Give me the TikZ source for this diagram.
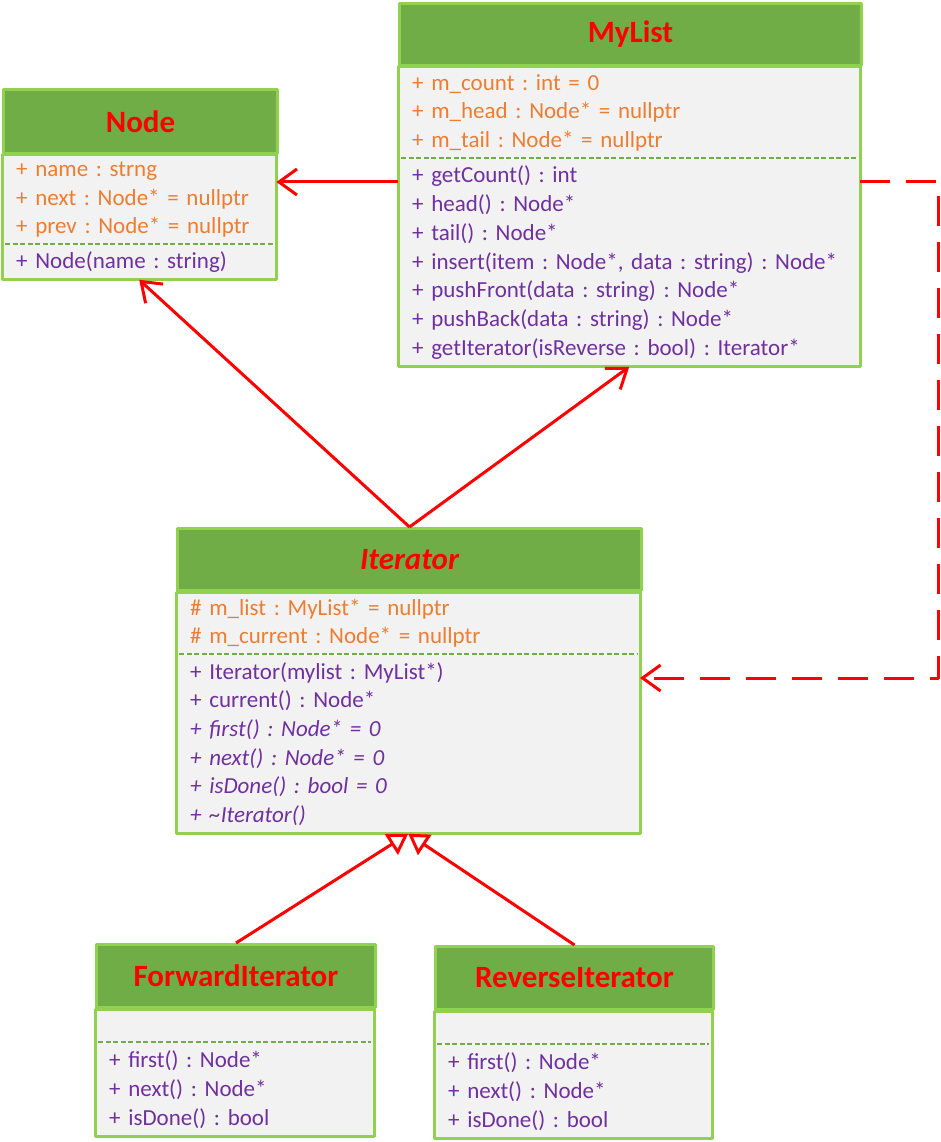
\documentclass[tikz,border=0pt]{standalone}
\usepackage{fontspec}
\setmainfont{Carlito}
\usetikzlibrary{arrows.meta}
\definecolor{headgreen}{HTML}{70AD47}
\definecolor{framegreen}{HTML}{92D050}
\definecolor{bodygray}{HTML}{F2F2F2}
\definecolor{attrorange}{HTML}{ED7D31}
\definecolor{oppurple}{HTML}{7030A0}
\frenchspacing
\begin{document}
\begin{tikzpicture}[x=1pt,y=-1pt,line join=round,
	head/.style={draw=framegreen,fill=headgreen,line width=3pt,text=red,anchor=north west,inner sep=0pt,font=\fontsize{31}{36}\selectfont\bfseries},
	part/.style={fill=bodygray,anchor=north west,inner xsep=14pt,inner ysep=0pt,align=left,font=\fontsize{23}{28.7}\selectfont},
	attr/.style={part,text=attrorange},
	oper/.style={part,text=oppurple},
	frame/.style={draw=framegreen,line width=3pt},
	sep/.style={draw=headgreen,line width=2pt,dash pattern=on 5pt off 2.5pt},
	link/.style={draw=red,line width=3pt,-{Straight Barb[length=18pt,width=26pt]}},
	dep/.style={link,dash pattern=on 30pt off 16pt},
	inherit/.style={draw=red,line width=3pt,-{Triangle[fill=white,length=20pt,width=24pt]}}]
	\useasboundingbox (0,0) rectangle (941,1142);
	%%% Node
	\node[head,minimum width=274pt,minimum height=64pt] (nodeHead) at (2,88) {Node};
	\node[attr,text width=246pt,minimum height=89pt] (nodeAttr) at (nodeHead.south west) {+ name : strng\\+ next : Node* = nullptr\\+ prev : Node* = nullptr};
	\node[oper,text width=246pt,minimum height=35pt] (nodeOps) at (nodeAttr.south west) {+ Node(name : string)};
	\draw[frame] (nodeAttr.north west) rectangle (nodeOps.south east);
	\draw[sep] ([xshift=3pt]nodeAttr.south west) -- ([xshift=-3pt]nodeAttr.south east);
	%%% MyList
	\node[head,minimum width=462pt,minimum height=62pt] (mlHead) at (398,2) {MyList};
	\node[attr,text width=434pt,minimum height=91pt] (mlAttr) at (mlHead.south west) {+ m\_count : int = 0\\+ m\_head : Node* = nullptr\\+ m\_tail : Node* = nullptr};
	\node[oper,text width=434pt,minimum height=208pt] (mlOps) at (mlAttr.south west) {+ getCount() : int\\+ head() : Node*\\+ tail() : Node*\\+ insert(item : Node*, data : string) : Node*\\+ pushFront(data : string) : Node*\\+ pushBack(data : string) : Node*\\+ getIterator(isReverse : bool) : Iterator*};
	\draw[frame] (mlAttr.north west) rectangle (mlOps.south east);
	\draw[sep] ([xshift=3pt]mlAttr.south west) -- ([xshift=-3pt]mlAttr.south east);
	%%% Iterator
	\node[head,minimum width=464pt,minimum height=62pt,font=\fontsize{31}{36}\selectfont\bfseries\itshape] (itHead) at (176,527) {Iterator};
	\node[attr,text width=436pt,minimum height=62pt] (itAttr) at (itHead.south west) {\# m\_list : MyList* = nullptr\\\# m\_current : Node* = nullptr};
	\node[oper,text width=436pt,minimum height=179pt] (itOps) at (itAttr.south west) {+ Iterator(mylist : MyList*)\\+ current() : Node*\\\textit{+ first() : Node* = 0}\\\textit{+ next() : Node* = 0}\\\textit{+ isDone() : bool = 0}\\\textit{+ \textasciitilde Iterator()}};
	\draw[frame] (itAttr.north west) rectangle (itOps.south east);
	\draw[sep] ([xshift=3pt]itAttr.south west) -- ([xshift=-3pt]itAttr.south east);
	%%% ForwardIterator
	\node[head,minimum width=279pt,minimum height=63pt] (fwHead) at (95,943) {ForwardIterator};
	\node[attr,text width=251pt,minimum height=33pt] (fwAttr) at (fwHead.south west) {};
	\node[oper,text width=251pt,minimum height=94pt] (fwOps) at (fwAttr.south west) {+ first() : Node*\\+ next() : Node*\\+ isDone() : bool};
	\draw[frame] (fwAttr.north west) rectangle (fwOps.south east);
	\draw[sep] ([xshift=3pt]fwAttr.south west) -- ([xshift=-3pt]fwAttr.south east);
	%%% ReverseIterator
	\node[head,minimum width=278pt,minimum height=63pt] (rvHead) at (434,945) {ReverseIterator};
	\node[attr,text width=250pt,minimum height=33pt] (rvAttr) at (rvHead.south west) {};
	\node[oper,text width=250pt,minimum height=94pt] (rvOps) at (rvAttr.south west) {+ first() : Node*\\+ next() : Node*\\+ isDone() : bool};
	\draw[frame] (rvAttr.north west) rectangle (rvOps.south east);
	\draw[sep] ([xshift=3pt]rvAttr.south west) -- ([xshift=-3pt]rvAttr.south east);
	%%% connectors
	\coordinate (mlTap) at (398,182);
	\coordinate (itTap) at (640,678);
	\draw[link] (mlTap) -- (mlTap -| nodeAttr.east);
	\draw[link] (itHead.north) -- (nodeOps.south);
	\draw[link] (itHead.north) -- (mlOps.south);
	\draw[dep] (mlTap -| mlOps.east) -- ++(78,0) |- (itTap);
	\draw[inherit] (fwHead.north) -- (itOps.south);
	\draw[inherit] (rvHead.north) -- (itOps.south);
\end{tikzpicture}
\end{document}
